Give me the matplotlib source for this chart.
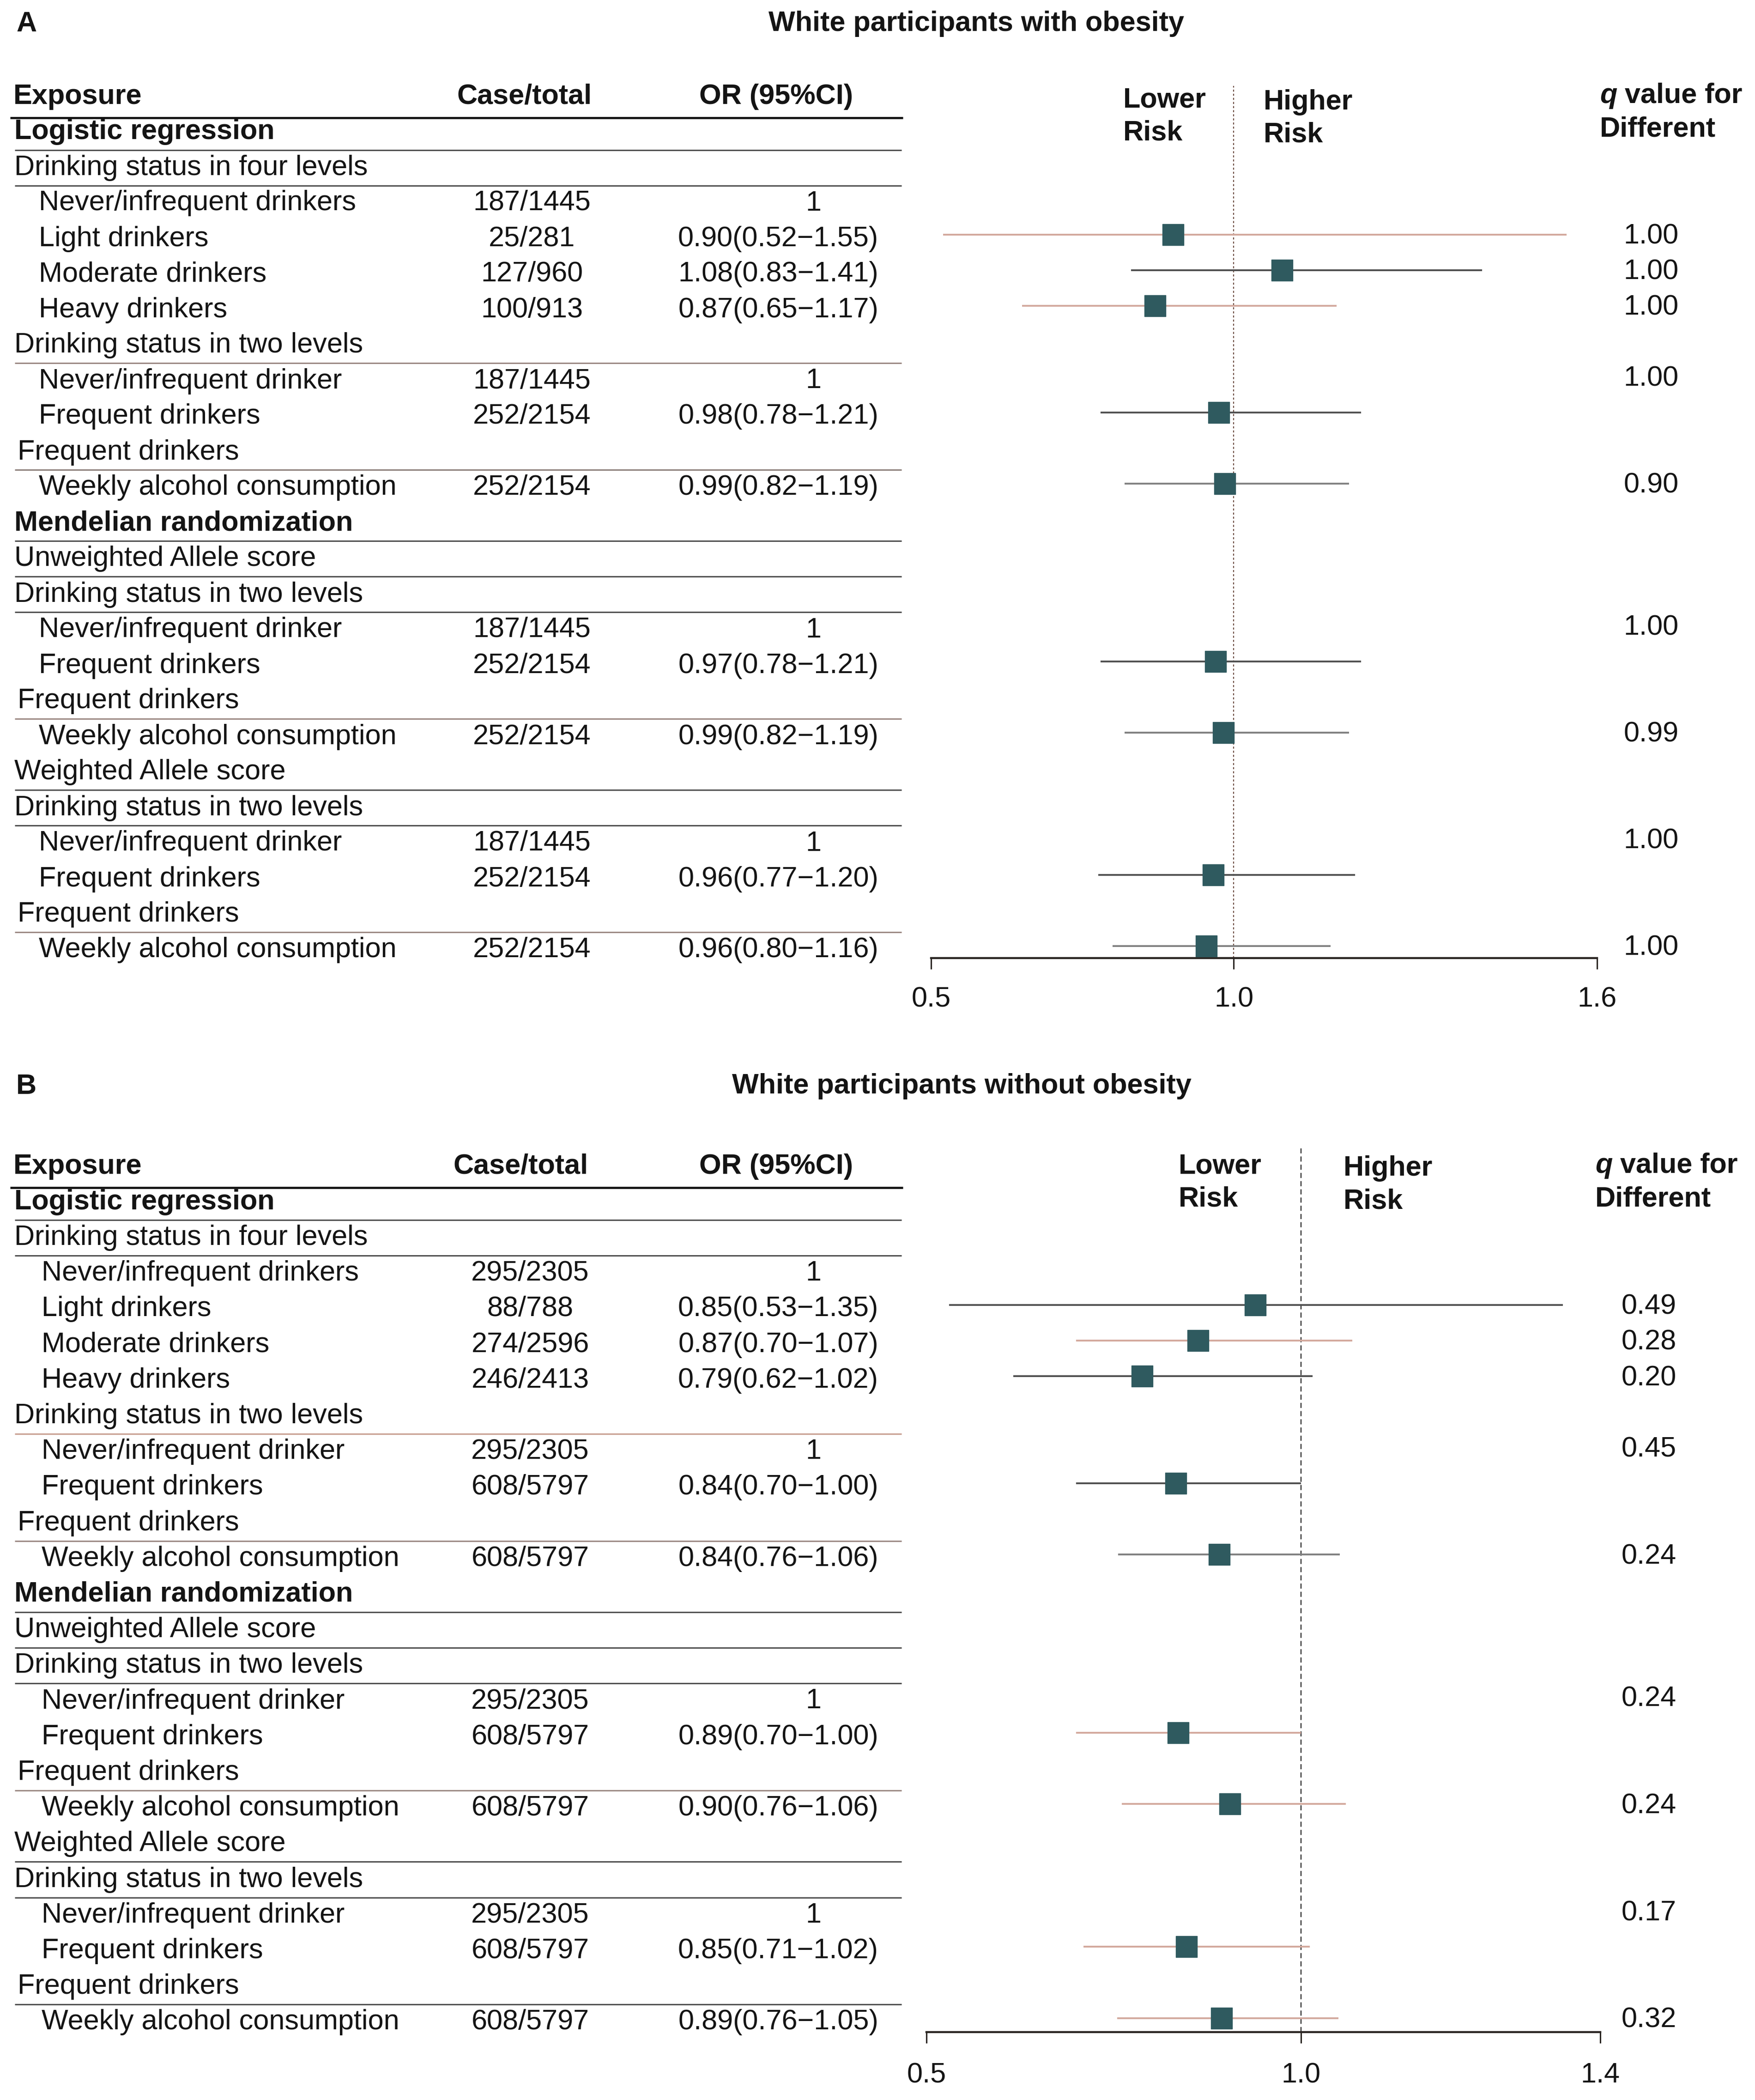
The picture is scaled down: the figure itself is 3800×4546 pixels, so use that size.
"""Forest plot: drinking status and risk in white participants (panels A and B)"""

import matplotlib
matplotlib.use('Agg')
import matplotlib.pyplot as plt
import matplotlib.transforms as mtransforms

plt.rcParams['font.family'] = ['Liberation Sans', 'DejaVu Sans']

# ---------------------------------------------------------------- data
row_labels = [
    'Logistic regression',
    'Drinking status in four levels',
    'Never/infrequent drinkers',
    'Light drinkers',
    'Moderate drinkers',
    'Heavy drinkers',
    'Drinking status in two levels',
    'Never/infrequent drinker',
    'Frequent drinkers',
    'Frequent drinkers',
    'Weekly alcohol consumption',
    'Mendelian randomization',
    'Unweighted Allele score',
    'Drinking status in two levels',
    'Never/infrequent drinker',
    'Frequent drinkers',
    'Frequent drinkers',
    'Weekly alcohol consumption',
    'Weighted Allele score',
    'Drinking status in two levels',
    'Never/infrequent drinker',
    'Frequent drinkers',
    'Frequent drinkers',
    'Weekly alcohol consumption',
]
# bold = method header, sub = section header, sub2 = "Frequent drinkers" header, item = data row
row_kinds = [
    'bold', 'sub', 'item', 'item', 'item', 'item', 'sub', 'item', 'item', 'sub2', 'item',
    'bold', 'sub', 'sub', 'item', 'item', 'sub2', 'item',
    'sub', 'sub', 'item', 'item', 'sub2', 'item',
]

# rows (1-based, row 0 = column header) that carry data
data_rows = [3, 4, 5, 6, 8, 9, 11, 15, 16, 18, 21, 22, 24]
forest_rows = [4, 5, 6, 9, 11, 16, 18, 22, 24]
q_rows = [4, 5, 6, 8, 11, 15, 18, 21, 24]

a_case = ['187/1445', '25/281', '127/960', '100/913', '187/1445', '252/2154', '252/2154',
          '187/1445', '252/2154', '252/2154', '187/1445', '252/2154', '252/2154']
a_or_text = ['1', '0.90(0.52\u22121.55)', '1.08(0.83\u22121.41)', '0.87(0.65\u22121.17)',
             '1', '0.98(0.78\u22121.21)', '0.99(0.82\u22121.19)',
             '1', '0.97(0.78\u22121.21)', '0.99(0.82\u22121.19)',
             '1', '0.96(0.77\u22121.20)', '0.96(0.80\u22121.16)']
a_est = [0.90, 1.08, 0.87, 0.975, 0.985, 0.97, 0.983, 0.966, 0.955]
a_lo = [0.52, 0.83, 0.65, 0.78, 0.82, 0.78, 0.82, 0.776, 0.80]
a_hi = [1.55, 1.41, 1.17, 1.21, 1.19, 1.21, 1.19, 1.20, 1.16]
a_q = ['1.00', '1.00', '1.00', '1.00', '0.90', '1.00', '0.99', '1.00', '1.00']

b_case = ['295/2305', '88/788', '274/2596', '246/2413', '295/2305', '608/5797', '608/5797',
          '295/2305', '608/5797', '608/5797', '295/2305', '608/5797', '608/5797']
b_or_text = ['1', '0.85(0.53\u22121.35)', '0.87(0.70\u22121.07)', '0.79(0.62\u22121.02)',
             '1', '0.84(0.70\u22121.00)', '0.84(0.76\u22121.06)',
             '1', '0.89(0.70\u22121.00)', '0.90(0.76\u22121.06)',
             '1', '0.85(0.71\u22121.02)', '0.89(0.76\u22121.05)']
b_est = [0.939, 0.863, 0.788, 0.833, 0.891, 0.836, 0.905, 0.847, 0.894]
b_lo = [0.53, 0.70, 0.616, 0.70, 0.756, 0.70, 0.761, 0.71, 0.755]
b_hi = [1.35, 1.069, 1.016, 1.00, 1.052, 1.00, 1.06, 1.012, 1.05]
b_q = ['0.49', '0.28', '0.20', '0.45', '0.24', '0.24', '0.24', '0.17', '0.32']

a_ticks = [0.5, 1.0, 1.6]
b_ticks = [0.5, 1.0, 1.4]

# ---------------------------------------------------------------- style
W, H = 3800, 4546
FS = 44
TXT = '#141414'
SQ = '#2f5a5f'
DARK, GREY, PINK = '#505050', '#808080', '#d3a99d'

a_ci_colors = [PINK, DARK, PINK, DARK, GREY, DARK, GREY, DARK, GREY]
b_ci_colors = [DARK, PINK, DARK, DARK, GREY, PINK, PINK, PINK, PINK]
a_rule_colors = [DARK, DARK, '#9c8a84', '#8c7f7a', DARK, DARK, DARK, '#9c8a84',
                 DARK, DARK, '#9c8a84']
b_rule_colors = [DARK, DARK, '#c79d90', '#9c8a84', DARK, DARK, DARK, '#9c8a84',
                 DARK, DARK, DARK]

panels = [
    dict(letter='A', title='White participants with obesity', title_x=2114, title_y=52,
         y0=209, step=77.0, axis_px=2074, x_lo_px=2016, x_hi_px=3458,
         ticks=a_ticks, item_x=84, case_x=1152, case_hx=1136,
         lower_x=2432, higher_x=2736, q_hx=3464, q_x=3575, risk_row=0.56,
         ref_top=-0.3, ref_style=(0, (2, 2)), ref_color='#6b4a40', tick_pad=27,
         case=a_case, or_text=a_or_text, est=a_est, lo=a_lo, hi=a_hi, q=a_q,
         ci_colors=a_ci_colors, rule_colors=a_rule_colors),
    dict(letter='B', title='White participants without obesity', title_x=2082, title_y=2352,
         y0=2525, step=77.2, axis_px=4399, x_lo_px=2006, x_hi_px=3465,
         ticks=b_ticks, item_x=90, case_x=1148, case_hx=1128,
         lower_x=2552, higher_x=2909, q_hx=3454, q_x=3570, risk_row=0.46,
         ref_top=-0.5, ref_style=(0, (5, 3)), ref_color='#222222', tick_pad=30,
         case=b_case, or_text=b_or_text, est=b_est, lo=b_lo, hi=b_hi, q=b_q,
         ci_colors=b_ci_colors, rule_colors=b_rule_colors),
]

fig = plt.figure(figsize=(W / 100, H / 100), dpi=100)
fig.patch.set_facecolor('white')

for p in panels:
    top_px = p['y0'] - 2.2 * p['step']
    ax = fig.add_axes([p['x_lo_px'] / W, 1 - p['axis_px'] / H,
                       (p['x_hi_px'] - p['x_lo_px']) / W, (p['axis_px'] - top_px) / H])
    ax.set_xlim(p['ticks'][0], p['ticks'][-1])
    ax.set_ylim((p['axis_px'] - p['y0']) / p['step'], (top_px - p['y0']) / p['step'])
    ax.patch.set_alpha(0)
    for side in ['top', 'right', 'left']:
        ax.spines[side].set_visible(False)
    ax.spines['bottom'].set_linewidth(3.2)
    ax.spines['bottom'].set_color('#2a2522')
    ax.set_yticks([])
    ax.set_xticks(p['ticks'])
    ax.set_xticklabels([f'{t:.1f}' for t in p['ticks']])
    ax.tick_params(axis='x', length=17, width=2.2, color='#2a2522',
                   labelsize=FS, labelcolor=TXT, pad=p['tick_pad'])

    blend = mtransforms.blended_transform_factory(fig.transFigure, ax.transData)

    # panel letter and title
    fig.text(35 / W, 1 - p['title_y'] / H, p['letter'], fontsize=FS, fontweight='bold',
             color=TXT, ha='left', va='center')
    fig.text(p['title_x'] / W, 1 - p['title_y'] / H, p['title'], fontsize=FS,
             fontweight='bold', color=TXT, ha='center', va='center')

    # column headers
    ax.text(29 / W, 0, 'Exposure', transform=blend, fontsize=FS, fontweight='bold',
            color=TXT, ha='left', va='center')
    ax.text(p['case_hx'] / W, 0, 'Case/total', transform=blend, fontsize=FS,
            fontweight='bold', color=TXT, ha='center', va='center')
    ax.text(1681 / W, 0, 'OR (95%CI)', transform=blend, fontsize=FS, fontweight='bold',
            color=TXT, ha='center', va='center')
    ax.plot([22 / W, 1955 / W], [0.6, 0.6], transform=blend, color='#111111',
            lw=3.4, clip_on=False, solid_capstyle='butt')

    ax.text(p['lower_x'] / W, p['risk_row'], 'Lower\nRisk', transform=blend, fontsize=FS,
            fontweight='bold', color=TXT, ha='left', va='center', linespacing=1.32)
    ax.text(p['higher_x'] / W, p['risk_row'] + 0.06, 'Higher\nRisk', transform=blend,
            fontsize=FS, fontweight='bold', color=TXT, ha='left', va='center',
            linespacing=1.32)
    qt = ax.text(p['q_hx'] / W, -0.02, 'q', transform=blend, fontsize=FS, fontweight='bold',
                 style='italic', color=TXT, ha='left', va='center')
    ax.annotate(' value for', xy=(1, 0), xycoords=qt, fontsize=FS, fontweight='bold',
                color=TXT, ha='left', va='bottom')
    ax.text(p['q_hx'] / W, 0.92, 'Different', transform=blend, fontsize=FS,
            fontweight='bold', color=TXT, ha='left', va='center')

    # left table
    rule_i = 0
    for i, (lab, kind) in enumerate(zip(row_labels, row_kinds), start=1):
        if kind == 'item':
            ax.text(p['item_x'] / W, i, lab, transform=blend, fontsize=FS, color=TXT,
                    ha='left', va='center')
        else:
            x = 38 if kind == 'sub2' else 31
            ax.text(x / W, i, lab, transform=blend, fontsize=FS, color=TXT,
                    fontweight='bold' if kind == 'bold' else 'normal',
                    ha='left', va='center')
            ax.plot([32 / W, 1952 / W], [i + 0.5, i + 0.5], transform=blend,
                    color=p['rule_colors'][rule_i], lw=2.2, clip_on=False,
                    solid_capstyle='butt')
            rule_i += 1

    for r, c, o in zip(data_rows, p['case'], p['or_text']):
        ax.text(p['case_x'] / W, r, c, transform=blend, fontsize=FS, color=TXT,
                ha='center', va='center')
        if o == '1':
            ax.text(1761 / W, r, o, transform=blend, fontsize=FS, color=TXT,
                    ha='center', va='center')
        else:
            ax.text(1902 / W, r, o, transform=blend, fontsize=FS, color=TXT,
                    ha='right', va='center')

    for r, qv in zip(q_rows, p['q']):
        ax.text(p['q_x'] / W, r - 0.06, qv, transform=blend, fontsize=FS, color=TXT,
                ha='center', va='center')

    # reference line at OR = 1
    ylo, yhi = ax.get_ylim()
    ax.plot([1.0, 1.0], [ylo, p['ref_top']], color=p['ref_color'], lw=1.6,
            linestyle=p['ref_style'], clip_on=False, zorder=1)

    # confidence intervals and point estimates
    for r, e, lo, hi, col in zip(forest_rows, p['est'], p['lo'], p['hi'], p['ci_colors']):
        yy = r - 0.12
        ax.plot([lo, hi], [yy, yy], color=col, lw=2.8, solid_capstyle='butt', zorder=2)
        ax.plot([e], [yy], marker='s', markersize=33, color=SQ, linestyle='none', zorder=3)

fig.savefig('out.png', dpi=100, facecolor='white')
